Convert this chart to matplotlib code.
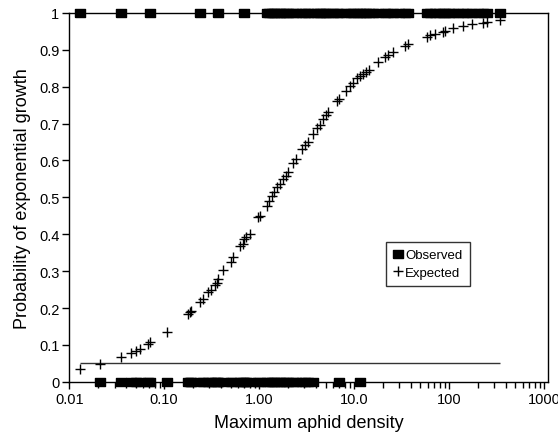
import numpy as np
import matplotlib
matplotlib.use("Agg")
import matplotlib.pyplot as plt
from matplotlib.ticker import FixedLocator, LogLocator, NullFormatter

plt.rcParams["font.family"] = ["Liberation Sans", "DejaVu Sans"]

# =========================
# DATA
# =========================
# expected probability for each density (+ markers)
exp_x = [0.0131, 0.0213, 0.0349, 0.0445, 0.0511, 0.0553, 0.0676, 0.0717, 0.106,
         0.180, 0.186, 0.192, 0.237, 0.257, 0.290, 0.315, 0.341, 0.356, 0.370,
         0.418, 0.500, 0.532, 0.626, 0.669, 0.690, 0.736, 0.798, 0.977,
         1.02, 1.20, 1.27, 1.35, 1.43, 1.55, 1.65, 1.79, 1.90, 2.02, 2.28, 2.44,
         2.80, 3.03, 3.24, 3.71, 4.03, 4.36, 4.72, 5.04, 5.34, 6.54, 6.97, 8.20,
         9.03, 9.78, 10.8, 11.5, 12.5, 13.5, 14.4, 17.9, 21.1, 22.9, 25.8, 34.3,
         37.2, 58.1, 62.9, 71.0, 85.6, 90.6, 111, 141, 173, 229, 249, 345]
exp_p = [0.034, 0.047, 0.067, 0.078, 0.083, 0.088, 0.103, 0.107, 0.135,
         0.185, 0.189, 0.192, 0.216, 0.225, 0.243, 0.250, 0.262, 0.268, 0.279,
         0.302, 0.324, 0.337, 0.369, 0.374, 0.386, 0.392, 0.401, 0.446,
         0.449, 0.476, 0.491, 0.504, 0.515, 0.527, 0.537, 0.550, 0.557, 0.570, 0.593, 0.603,
         0.630, 0.642, 0.651, 0.672, 0.688, 0.696, 0.713, 0.722, 0.731, 0.762, 0.768, 0.789,
         0.803, 0.810, 0.823, 0.828, 0.835, 0.841, 0.846, 0.868, 0.880, 0.886, 0.894, 0.911,
         0.915, 0.934, 0.940, 0.943, 0.949, 0.951, 0.959, 0.965, 0.970, 0.973, 0.975, 0.981]

# observed outcomes: growth (1) and no growth (0)
obs1_x = [0.0131, 0.0349, 0.0717, 0.237, 0.370, 0.690,
          1.20, 1.27, 1.35, 1.43, 1.55, 1.65, 1.79, 1.90, 2.02, 2.28, 2.44,
          2.80, 3.03, 3.24, 3.71, 4.03, 4.36, 4.72, 5.04, 5.34, 6.0, 6.54, 6.97, 8.20,
          9.03, 9.78, 10.8, 11.5, 12.5, 13.5, 14.4, 16.0, 17.9, 21.1, 22.9, 25.8, 30.0,
          34.3, 37.2, 58.1, 62.9, 71.0, 78.0, 85.6, 90.6, 100, 111, 125, 141, 155,
          173, 200, 229, 249, 345]
obs0_x = [0.0213, 0.0349, 0.0445, 0.0511, 0.0553, 0.0676, 0.0717, 0.106,
          0.180, 0.186, 0.192, 0.237, 0.257, 0.290, 0.315, 0.341, 0.356, 0.370,
          0.418, 0.500, 0.532, 0.626, 0.669, 0.690, 0.736, 0.798, 0.977,
          1.02, 1.20, 1.27, 1.35, 1.43, 1.55, 1.65, 1.79, 1.90, 2.02, 2.28, 2.44,
          2.80, 3.03, 3.24, 3.71, 6.97, 11.5]

cutoff = 0.05

x_ticks = [0.01, 0.1, 1, 10, 100, 1000]
x_ticklabels = ["0.01", "0.10", "1.00", "10.0", "100", "1000"]
y_ticks = [0, 0.1, 0.2, 0.3, 0.4, 0.5, 0.6, 0.7, 0.8, 0.9, 1]
y_ticklabels = ["0", "0.1", "0.2", "0.3", "0.4", "0.5", "0.6", "0.7", "0.8", "0.9", "1"]

# =========================
# PLOT
# =========================
fig = plt.figure(figsize=(5.58, 4.35), dpi=100)
ax = fig.add_axes([0.124, 0.12, 0.858, 0.848])

# wide flat square marker for the observed data
rect = [(-1.25, -1), (1.25, -1), (1.25, 1), (-1.25, 1), (-1.25, -1)]

ax.hlines(cutoff, min(exp_x), max(exp_x), color="#333333", lw=1.0, zorder=2)

ax.plot(obs1_x, np.ones(len(obs1_x)), ls="none", marker=rect, ms=7.6,
        color="black", mec="black", clip_on=False, zorder=4, label="Observed")
ax.plot(obs0_x, np.zeros(len(obs0_x)), ls="none", marker=rect, ms=7.6,
        color="black", mec="black", clip_on=False, zorder=4)
ax.plot(exp_x, exp_p, ls="none", marker="+", ms=7, mew=1.0,
        color="black", clip_on=False, zorder=3, label="Expected")

ax.set_xscale("log")
ax.set_xlim(0.01, 1100)
ax.set_ylim(0, 1)

ax.xaxis.set_major_locator(FixedLocator(x_ticks))
ax.set_xticklabels(x_ticklabels)
ax.xaxis.set_minor_locator(LogLocator(base=10, subs=np.arange(2, 10)))
ax.xaxis.set_minor_formatter(NullFormatter())
ax.set_yticks(y_ticks)
ax.set_yticklabels(y_ticklabels)

ax.tick_params(axis="both", which="major", direction="out", length=5, width=1,
               labelsize=10.5, colors="black", pad=2)
ax.tick_params(axis="x", which="minor", direction="out", length=4, width=1)
for s in ax.spines.values():
    s.set_linewidth(1.0)

ax.set_xlabel("Maximum aphid density", fontsize=13, labelpad=6)
ax.set_ylabel("Probability of exponential growth", fontsize=13, labelpad=6)

leg = ax.legend(loc="upper left", bbox_to_anchor=(0.648, 0.397), frameon=True,
                fancybox=False, edgecolor="black", fontsize=9.5, handlelength=0.7,
                handletextpad=0.2, borderpad=0.55, labelspacing=0.4, markerscale=1.0)
leg.get_frame().set_linewidth(1.0)

fig.savefig("out.png", dpi=100)
